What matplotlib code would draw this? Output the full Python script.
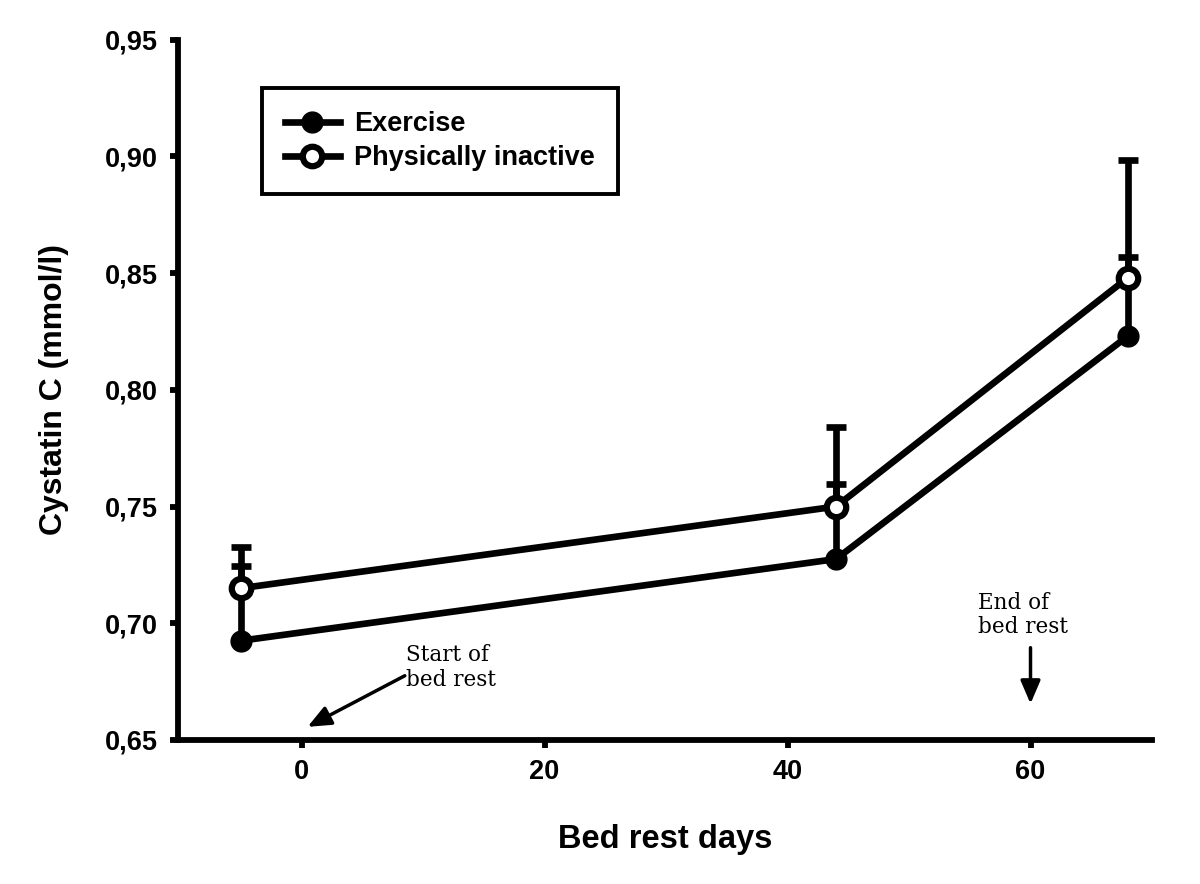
import matplotlib
matplotlib.use("Agg")
import matplotlib.pyplot as plt
from matplotlib.ticker import FuncFormatter

days = [-5, 44, 68]
exercise = [0.6925, 0.7275, 0.823]
exercise_err = [0.032, 0.032, 0.034]
inactive = [0.715, 0.750, 0.848]
inactive_err = [0.0178, 0.034, 0.0505]
xticks = [0, 20, 40, 60]
yticks = [0.65, 0.70, 0.75, 0.80, 0.85, 0.90, 0.95]

plt.rcParams['font.family'] = ['Liberation Sans', 'DejaVu Sans']

fig = plt.figure(figsize=(12, 8.84), dpi=100)
ax = fig.add_axes([0.148, 0.163, 0.812, 0.792])

lw = 4.8
ax.errorbar(days, exercise, yerr=[[0]*3, exercise_err], fmt='none', ecolor='black',
            elinewidth=lw, capsize=7.5, capthick=lw, zorder=2)
ax.errorbar(days, inactive, yerr=[[0]*3, inactive_err], fmt='none', ecolor='black',
            elinewidth=lw, capsize=7.5, capthick=lw, zorder=2)
ax.plot(days, exercise, '-o', color='black', lw=lw, ms=15, mfc='black', mec='black',
        label='Exercise', zorder=3)
ax.plot(days, inactive, '-o', color='black', lw=lw, ms=14, mfc='white', mec='black',
        mew=4.5, label='Physically inactive', zorder=4)

ax.set_xlim(-10.2, 70)
ax.set_ylim(0.65, 0.95)
ax.set_xticks(xticks)
ax.set_yticks(yticks)
ax.yaxis.set_major_formatter(FuncFormatter(lambda v, p: f"{v:.2f}".replace('.', ',')))

for s in ['top', 'right']:
    ax.spines[s].set_visible(False)
for s in ['left', 'bottom']:
    ax.spines[s].set_linewidth(4.2)
ax.tick_params(axis='both', width=4.2, length=6, labelsize=19.5, pad=8)
for lab in ax.get_xticklabels() + ax.get_yticklabels():
    lab.set_fontweight('bold')

ax.set_xlabel('Bed rest days', fontsize=23.5, fontweight='bold', labelpad=28)
ax.set_ylabel('Cystatin C (mmol/l)', fontsize=23, fontweight='bold', labelpad=26)

leg = ax.legend(loc='upper left', bbox_to_anchor=(0.087, 0.931), borderaxespad=0,
                fancybox=False, framealpha=1, edgecolor='black',
                prop={'size': 19.5, 'weight': 'bold'}, handlelength=2.0,
                borderpad=0.85, labelspacing=0.3, handletextpad=0.55)
leg.get_frame().set_linewidth(2.8)

aprops = dict(arrowstyle='-|>,head_length=1.4,head_width=0.6', color='black', lw=2.5,
              shrinkA=0, shrinkB=0)
ax.annotate('', xy=(0.5, 0.6556), xytext=(8.5, 0.6775), arrowprops=aprops)
ax.text(8.6, 0.681, 'Start of\nbed rest', fontsize=15.5, family='DejaVu Serif',
        ha='left', va='center', linespacing=1.15)
ax.annotate('', xy=(60, 0.6655), xytext=(60, 0.6895), arrowprops=aprops)
ax.text(55.7, 0.7035, 'End of\nbed rest', fontsize=15.5, family='DejaVu Serif',
        ha='left', va='center', linespacing=1.15)

fig.savefig('out.png', dpi=100)
